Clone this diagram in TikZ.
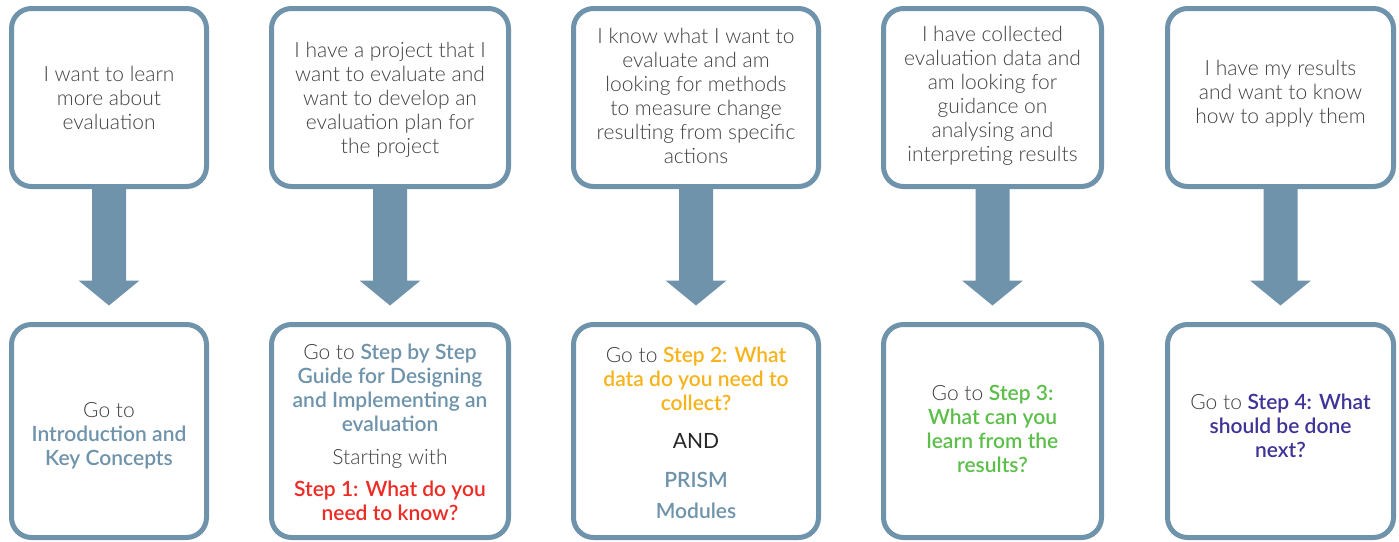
\documentclass[tikz,border=0pt]{standalone}
\usepackage{fontspec}
\setmainfont{Lato Light}[BoldFont={Lato Semibold}]
\usetikzlibrary{calc}
\definecolor{frame}{RGB}{110,147,171}
\definecolor{ink}{RGB}{64,64,64}
\definecolor{stepone}{RGB}{238,42,36}
\definecolor{steptwo}{RGB}{248,179,27}
\definecolor{stepthree}{RGB}{92,191,74}
\definecolor{stepfour}{RGB}{62,51,151}
\newcommand\colbf[2]{{\bfseries\color{#1}#2}}
\begin{document}
\begin{tikzpicture}[x=1pt,y=-1pt,
  box/.style={draw=frame, line width=5pt, rounded corners=20pt, fill=white,
    inner sep=0pt},
  topbox/.style={box, minimum height=178pt},
  botbox/.style={box, minimum height=213pt},
  label/.style={align=center, text=ink, inner sep=0pt,
    font=\fontsize{21}{24}\selectfont},
  flow/.style={fill=frame, draw=none}]
\useasboundingbox (0,0) rectangle (1399,541);

% question boxes (top row)
\node[topbox, minimum width=195pt] (q1) at (109,97.5) {};
\node[topbox, minimum width=237pt] (q2) at (390,97.5) {};
\node[topbox, minimum width=245pt] (q3) at (696,97.5) {};
\node[topbox, minimum width=218pt] (q4) at (992.5,97.5) {};
\node[topbox, minimum width=226pt] (q5) at (1280.5,97.5) {};

% answer boxes (bottom row)
\node[botbox, minimum width=195pt] (a1) at (109,431) {};
\node[botbox, minimum width=237pt] (a2) at (390,431) {};
\node[botbox, minimum width=245pt] (a3) at (696,431) {};
\node[botbox, minimum width=218pt] (a4) at (992.5,431) {};
\node[botbox, minimum width=226pt] (a5) at (1280.5,431) {};

% block arrows from each question to its answer
\foreach \q/\a in {q1/a1,q2/a2,q3/a3,q4/a4,q5/a5}{
  \fill[flow] ($(\q.south)+(-17,0)$) -- ($(\q.south)+(17,0)$)
    -- ($(\q.south)+(17,91.5)$) -- ($(\q.south)+(30.5,91.5)$)
    -- ($(\a.north)+(0,-16.5)$)
    -- ($(\q.south)+(-30.5,91.5)$) -- ($(\q.south)+(-17,91.5)$) -- cycle;
}

% question texts
\node[label] (q1t) at ($(q1.center)+(0,0.5)$) {I want to learn\\more about\\evaluation};
\node[label] (q2t) at ($(q2.center)+(0,2.5)$) {I have a project that I\\want to evaluate and\\want to develop an\\evaluation plan for\\the project};
\node[label] (q3t) at ($(q3.center)+(0,-1.5)$) {I know what I want to\\evaluate and am\\looking for methods\\to measure change\\resulting from specific\\actions};
\node[label] (q4t) at ($(q4.center)+(0,-1.5)$) {I have collected\\evaluation data and\\am looking for\\guidance on\\analysing and\\interpreting results};
\node[label] (q5t) at ($(q5.center)+(0,-3.5)$) {I have my results\\and want to know\\how to apply them};

% answer texts
\node[label] (a1t) at ($(a1.center)+(0,5)$) {Go to\\\colbf{frame}{Introduction and}\\\colbf{frame}{Key Concepts}};
\node[label] (a2t) at ($(a2.center)+(0,1.5)$) {Go to \colbf{frame}{Step by Step}\\\colbf{frame}{Guide for Designing}\\\colbf{frame}{and Implementing an}\\\colbf{frame}{evaluation}\\[9pt]Starting with\\[8pt]\colbf{stepone}{Step 1: What do you}\\\colbf{stepone}{need to know?}};
\node[label] (a3t) at ($(a3.center)+(0,2)$) {Go to \colbf{steptwo}{Step 2: What}\\\colbf{steptwo}{data do you need to}\\\colbf{steptwo}{collect?}\\[14pt]{\fontspec{Lato}\color{black!85}AND}\\[15pt]\colbf{frame}{PRISM}\\[7pt]\colbf{frame}{Modules}};
\node[label] (a4t) at ($(a4.center)+(0,-2)$) {Go to \colbf{stepthree}{Step 3:}\\\colbf{stepthree}{What can you}\\\colbf{stepthree}{learn from the}\\\colbf{stepthree}{results?}};
\node[label] (a5t) at ($(a5.center)+(0,-5)$) {Go to \colbf{stepfour}{Step 4: What}\\\colbf{stepfour}{should be done}\\\colbf{stepfour}{next?}};
\end{tikzpicture}
\end{document}
